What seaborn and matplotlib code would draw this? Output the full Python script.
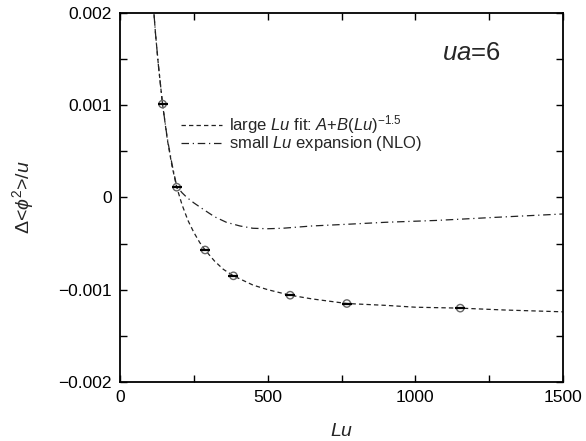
import matplotlib
matplotlib.use("Agg")
import matplotlib.pyplot as plt
import seaborn as sns
import pandas as pd
from matplotlib.ticker import MultipleLocator, FixedLocator, FixedFormatter

# ---- data ----
pts_L = [144, 192, 288, 384, 576, 768, 1152]
pts_val = [0.00101, 0.00011, -0.00057, -0.00085, -0.00106, -0.00115, -0.00120]

fit_L = [100, 110, 120, 130, 144, 160, 176, 192, 210, 230, 250, 270, 288, 320,
         350, 384, 450, 500, 576, 650, 768, 900, 1000, 1152, 1300, 1500]
fit_val = [0.00265, 0.00220, 0.00178, 0.00143, 0.00101, 0.00063, 0.00034,
           0.00011, -0.00008, -0.00025, -0.00038, -0.00049, -0.00057, -0.00069,
           -0.00078, -0.00085, -0.00095, -0.00100, -0.00106, -0.00110, -0.00115,
           -0.00117, -0.00119, -0.00120, -0.00122, -0.00124]

nlo_L = [100, 110, 120, 130, 144, 160, 176, 192, 210, 226, 250, 282, 320, 360,
         406, 450, 500, 550, 650, 779, 900, 1072, 1250, 1500]
nlo_val = [0.00265, 0.00220, 0.00178, 0.00143, 0.00101, 0.00064, 0.00036,
           0.00012, 0.00005, 0.00000, -0.00006, -0.00013, -0.00021, -0.00027,
           -0.00031, -0.000335, -0.00034, -0.000335, -0.00031, -0.00029,
           -0.00027, -0.00025, -0.00022, -0.00018]

xticks = [0, 500, 1000, 1500]
xticklabels = ["0", "500", "1000", "1500"]
yticks = [-0.002, -0.001, 0, 0.001, 0.002]
yticklabels = ["\u22120.002", "\u22120.001", "0", "0.001", "0.002"]

fit_label = r"large $Lu$ fit: $A$+$B$($Lu$)$^{-1.5}$"
nlo_label = r"small $Lu$ expansion (NLO)"

# ---- plotting ----
sns.set_style("ticks")
plt.rcParams["font.family"] = ["Liberation Sans", "DejaVu Sans"]
plt.rcParams["mathtext.fontset"] = "custom"
plt.rcParams["mathtext.rm"] = "Liberation Sans"
plt.rcParams["mathtext.it"] = "Liberation Sans:italic"
plt.rcParams["mathtext.bf"] = "Liberation Sans:bold"

fig, ax = plt.subplots(figsize=(5.86, 4.41), dpi=100)
fig.subplots_adjust(left=0.2048, right=0.9608, top=0.9712, bottom=0.1338)

fit_df = pd.DataFrame({"L": fit_L, "v": fit_val})
nlo_df = pd.DataFrame({"L": nlo_L, "v": nlo_val})
pts_df = pd.DataFrame({"L": pts_L, "v": pts_val})

sns.lineplot(data=fit_df, x="L", y="v", ax=ax, color="#222222", lw=0.9,
             label=fit_label, sort=True)
ax.lines[-1].set_dashes([3.5, 2.5])
sns.lineplot(data=nlo_df, x="L", y="v", ax=ax, color="#222222", lw=0.9,
             label=nlo_label, sort=True)
ax.lines[-1].set_dashes([6, 3, 1, 3])

sns.scatterplot(data=pts_df, x="L", y="v", ax=ax, marker="o", s=28,
                facecolor="none", edgecolor="#666666", linewidth=1.0,
                legend=False, zorder=3)
ax.plot(pts_L, pts_val, ls="none", marker="_", ms=7, mec="black", mew=1.6,
        zorder=4)

ax.set_xlim(0, 1500)
ax.set_ylim(-0.002, 0.002)
ax.xaxis.set_major_locator(FixedLocator(xticks))
ax.xaxis.set_major_formatter(FixedFormatter(xticklabels))
ax.yaxis.set_major_locator(FixedLocator(yticks))
ax.yaxis.set_major_formatter(FixedFormatter(yticklabels))
ax.xaxis.set_minor_locator(MultipleLocator(250))
ax.yaxis.set_minor_locator(MultipleLocator(0.0005))
ax.tick_params(which="both", direction="in", top=True, right=True,
               length=5, width=1.0, labelsize=12.5, pad=6, colors="black")
for s in ax.spines.values():
    s.set_linewidth(1.3)
    s.set_color("black")

ax.set_xlabel(r"$Lu$", fontsize=14, labelpad=13)
ax.set_ylabel(r"$\Delta$<$\phi^2$>/$u$", fontsize=14, labelpad=16)

ax.text(1190, 0.00149, r"$ua$=6", fontsize=18.5, ha="center", va="baseline")

leg = ax.legend(loc="upper left", bbox_to_anchor=(0.122, 0.745), frameon=False,
                fontsize=12, handlelength=2.5, handletextpad=0.4,
                labelspacing=-0.12, borderaxespad=0)

fig.savefig("out.png", dpi=100)
